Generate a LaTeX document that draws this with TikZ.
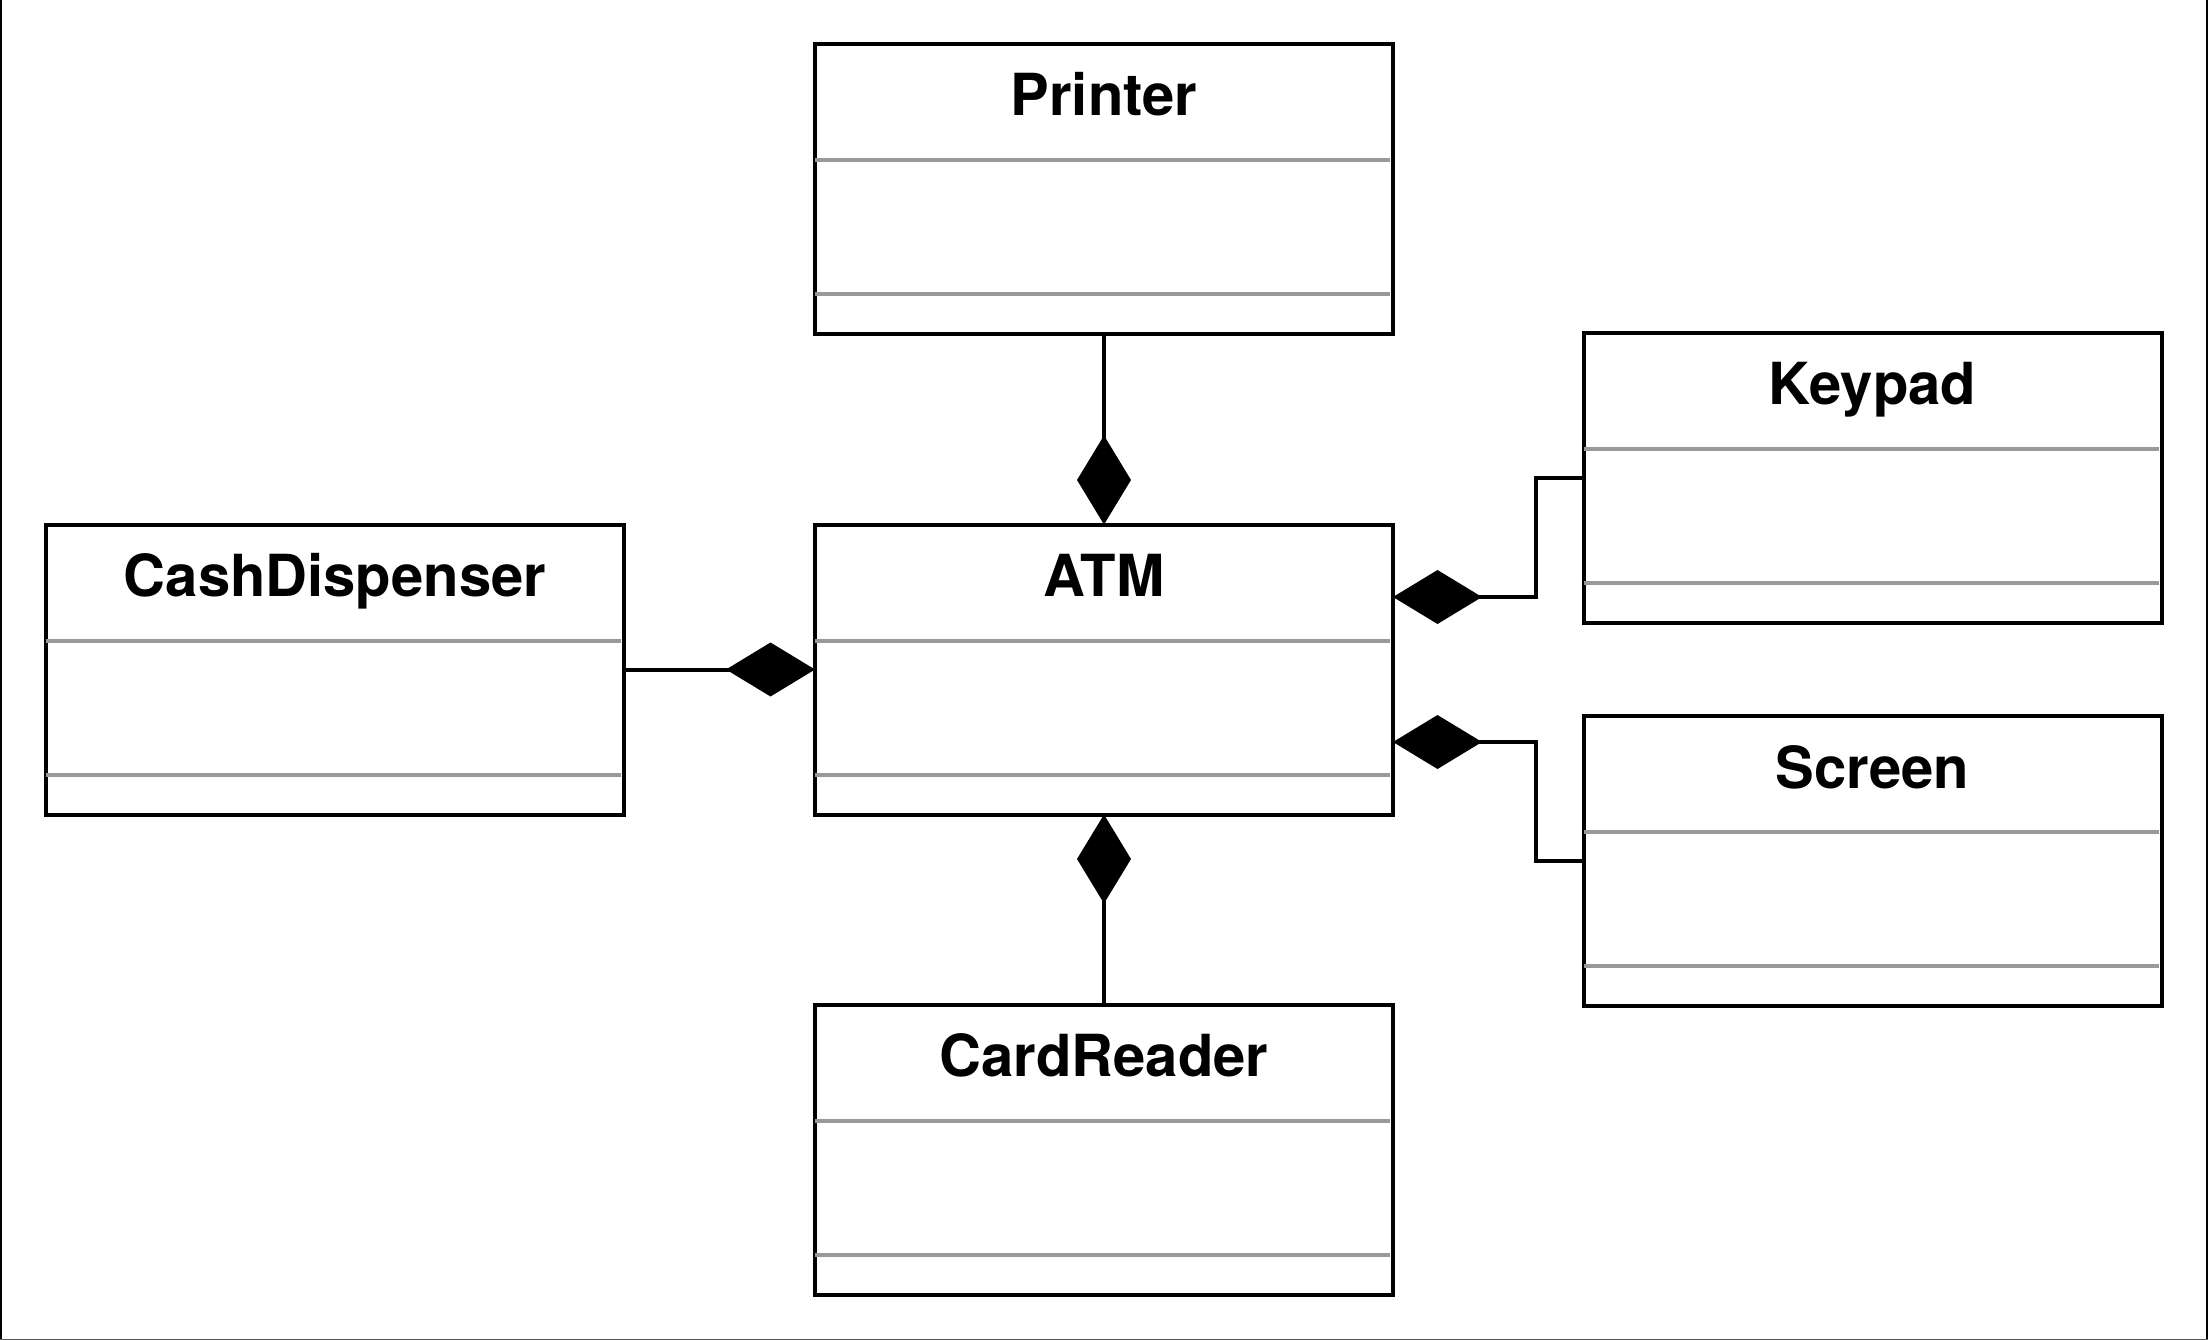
\documentclass[tikz,border=0pt]{standalone}
\usepackage{fontspec}
\setmainfont{TeX Gyre Heros}
\usetikzlibrary{arrows.meta,calc}
\definecolor{sepgray}{HTML}{999999}
\begin{document}
\begin{tikzpicture}[x=1pt,y=-1pt,
  classbox/.style={draw=black, line width=4pt, minimum width=578pt, minimum height=290pt, inner sep=0pt, outer sep=0pt},
  classtitle/.style={anchor=base, font=\bfseries\fontsize{58}{70}\selectfont, inner sep=0pt},
  sepline/.style={draw=sepgray, line width=4pt},
  conn/.style={draw=black, line width=4pt},
  comp/.style={-{Diamond[length=89pt,width=54pt]}},
  frameline/.style={draw=black, line width=2pt}]
\useasboundingbox (0,0) rectangle (2208,1340);
\draw[frameline] (1,0) -- (1,1340);
\draw[frameline] (2207,0) -- (2207,1340);
\draw[draw=black!65, line width=1.5pt] (0,1339.3) -- (2208,1339.3);

\newcommand{\umlclass}[3]{%
  \node[classbox] (#1) at (#2) {};
  \node[classtitle] (#1title) at ([yshift=-72pt]#1.north) {#3};
  \draw[sepline] ([yshift=-116pt]#1.north west) -- ([yshift=-116pt,xshift=-3pt]#1.north east);
  \draw[sepline] ([yshift=-250pt]#1.north west) -- ([yshift=-250pt,xshift=-3pt]#1.north east);
}
\umlclass{printer}{1104,189}{Printer}
\umlclass{atm}{1104,669.5}{ATM}
\umlclass{cash}{335,669.5}{CashDispenser}
\umlclass{keypad}{1872.5,477.5}{Keypad}
\umlclass{screen}{1872.5,861}{Screen}
\umlclass{card}{1104,1149.5}{CardReader}

\draw[conn,comp] (printer.south) -- (atm.north);
\draw[conn,comp] (card.north) -- (atm.south);
\draw[conn,comp] (cash.east) -- (atm.west);
\draw[conn,comp] (keypad.west) -- ++(-48,0) |- ($(atm.north east)!0.25!(atm.south east)$);
\draw[conn,comp] (screen.west) -- ++(-48,0) |- ($(atm.north east)!0.75!(atm.south east)$);
\end{tikzpicture}
\end{document}
